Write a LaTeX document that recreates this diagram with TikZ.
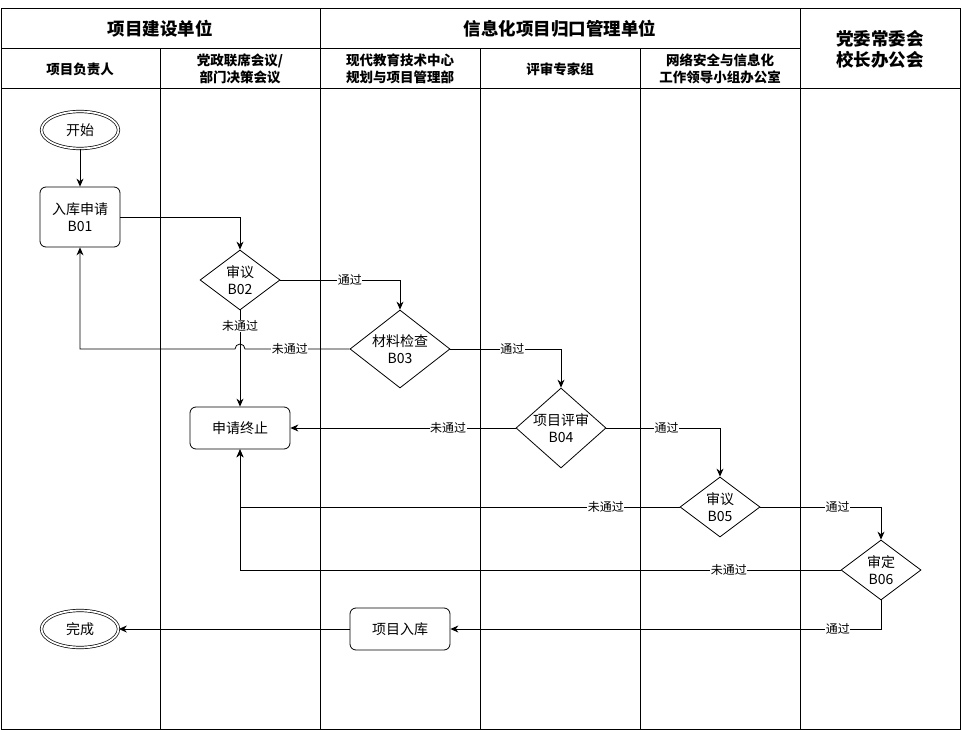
\documentclass[tikz,border=0pt]{standalone}
\usepackage{fontspec}
\setmainfont{Noto Sans CJK SC}
\usetikzlibrary{shapes.geometric,arrows.meta,calc}
\begin{document}
\begin{tikzpicture}[x=1pt,y=-1pt,
  frame/.style={line width=1pt},
  grp/.style={font=\fontsize{17.5}{21}\selectfont\bfseries},
  lane/.style={font=\fontsize{13.5}{17}\selectfont\bfseries,align=center},
  txt/.style={font=\fontsize{14}{17}\selectfont,align=center},
  proc/.style={txt,draw,rounded corners=6pt,minimum width=80pt,minimum height=60pt,line width=0.8pt},
  proc2/.style={txt,draw,rounded corners=6pt,minimum width=100pt,minimum height=42pt,line width=0.8pt},
  term/.style={txt,draw,ellipse,double,double distance=1.8pt,minimum width=77pt,minimum height=37pt,inner sep=0pt,line width=0.7pt},
  dec/.style={txt,draw,diamond,inner sep=0pt,line width=0.8pt},
  arr/.style={line width=0.8pt,-{Stealth[length=8pt,width=7pt]}},
  lbl/.style={fill=white,inner sep=0.5pt,font=\fontsize{12}{14}\selectfont}
]
\useasboundingbox (0,0) rectangle (961,730);
% swimlane frame
\draw[frame] (1,9) rectangle (960,729);
\draw[frame] (320,9) -- (320,729);
\draw[frame] (800,9) -- (800,729);
\draw[frame] (1,49) -- (800,49);
\draw[frame] (1,89) -- (960,89);
\foreach \x in {160,480,640} \draw[frame] (\x,49) -- (\x,729);
\node[grp] (g1) at (160,29) {项目建设单位};
\node[grp] (g2) at (560,29) {信息化项目归口管理单位};
\node[grp,align=center] (g3) at (880,49) {党委常委会\\校长办公会};
\node[lane] (l1) at (80,69) {项目负责人};
\node[lane] (l2) at (240,69) {党政联席会议/\\部门决策会议};
\node[lane] (l3) at (400,69) {现代教育技术中心\\规划与项目管理部};
\node[lane] (l4) at (560,69) {评审专家组};
\node[lane] (l5) at (720,69) {网络安全与信息化\\工作领导小组办公室};
% nodes
\node[term] (start) at (80,130) {开始};
\node[proc] (b01) at (80,217) {入库申请\\B01};
\node[dec,minimum width=80pt,minimum height=60pt,shape aspect=1.333] (b02) at (240,280) {审议\\B02};
\node[dec,minimum width=100pt,minimum height=78pt,shape aspect=1.28] (b03) at (400,349) {材料检查\\B03};
\node[proc2] (stop) at (240,428) {申请终止};
\node[dec,minimum width=90pt,minimum height=80pt,shape aspect=1.125] (b04) at (561,428) {项目评审\\B04};
\node[dec,minimum width=80pt,minimum height=60pt,shape aspect=1.333] (b05) at (720,507) {审议\\B05};
\node[dec,minimum width=80pt,minimum height=60pt,shape aspect=1.333] (b06) at (881,570) {审定\\B06};
\node[proc2] (ruku) at (400,629) {项目入库};
\node[term] (end) at (80,629) {完成};
% connectors
\draw[arr] (start) -- (b01);
\draw[arr] (b01.east) -- (b01.east -| b02.north) -- (b02.north);
\draw[arr] (b02.east) -- node[lbl,pos=0.58] {通过} (b02.east -| b03.north) -- (b03.north);
\draw[arr] (b02.south) -- node[lbl,pos=0.16] {未通过} (stop.north);
\draw[arr] (b03.west) -- node[lbl,pos=0.57] {未通过} ($(b03.west -| b02.south)+(5,0)$)
   arc[start angle=0,end angle=-180,radius=5] -- (b03.west -| b01.south) -- (b01.south);
\draw[arr] (b03.east) -- node[lbl,pos=0.56] {通过} (b03.east -| b04.north) -- (b04.north);
\draw[arr] (b04.west) -- node[lbl,pos=0.30] {未通过} (stop.east);
\draw[arr] (b04.east) -- node[lbl,pos=0.53] {通过} (b04.east -| b05.north) -- (b05.north);
\draw[arr] (b05.west) -- node[lbl,pos=0.168] {未通过} (b05.west -| stop.south) -- (stop.south);
\draw[arr] (b05.east) -- node[lbl,pos=0.64] {通过} (b05.east -| b06.north) -- (b06.north);
\draw[arr] (b06.west) -- node[lbl,pos=0.186] {未通过} (b06.west -| stop.south) -- (stop.south);
\draw[arr] (b06.south) -- (b06.south |- ruku.east) -- node[lbl,pos=0.10] {通过} (ruku.east);
\draw[arr] (ruku.west) -- (end.east);
\end{tikzpicture}
\end{document}
